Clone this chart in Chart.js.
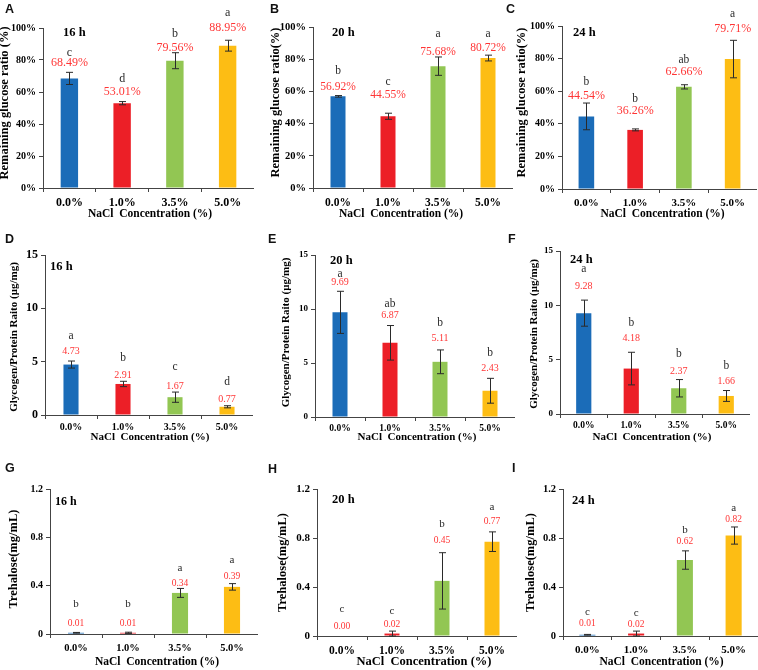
<!DOCTYPE html>
<html>
<head>
<meta charset="utf-8">
<script src="https://cdn.jsdelivr.net/npm/chart.js@4.4.1/dist/chart.umd.min.js"></script>
<style>
  body { margin: 0; background: #fff; width: 758px; height: 670px; position: relative; overflow: hidden; }
  canvas { position: absolute; }
</style>
</head>
<body>
<script>
// ---- data ----
const categories = ["0.0%", "1.0%", "3.5%", "5.0%"];
const hours = ["16 h", "20 h", "24 h"];

const glucoseMean = [[68.49, 53.01, 79.56, 88.95], [56.92, 44.55, 75.68, 80.72], [44.54, 36.26, 62.66, 79.71]];
const glucoseErr = [[3.8, 1.0, 5.0, 3.4], [0.5, 1.9, 5.7, 1.8], [8.2, 0.6, 1.3, 11.5]];
const glucoseSig = [["c", "d", "b", "a"], ["b", "c", "a", "a"], ["b", "b", "ab", "a"]];
const glucoseTicks = ["0%", "20%", "40%", "60%", "80%", "100%"];

const glycogenMean = [[4.73, 2.91, 1.67, 0.77], [9.69, 6.87, 5.11, 2.43], [9.28, 4.18, 2.37, 1.66]];
const glycogenErr = [[0.33, 0.25, 0.48, 0.1], [1.95, 1.6, 1.1, 1.15], [1.2, 1.5, 0.8, 0.5]];
const glycogenSig = [["a", "b", "c", "d"], ["a", "ab", "b", "b"], ["a", "b", "b", "b"]];
const glycogenTicks = ["0", "5", "10", "15"];

const trehaloseMean = [[0.01, 0.01, 0.34, 0.39], [0.00, 0.02, 0.45, 0.77], [0.01, 0.02, 0.62, 0.82]];
const trehaloseErr = [[0.003, 0.005, 0.037, 0.027], [0, 0.02, 0.23, 0.08], [0.003, 0.02, 0.075, 0.07]];
const trehaloseSig = [["b", "b", "a", "a"], ["c", "c", "b", "a"], ["c", "c", "b", "a"]];
const trehaloseTicks = ["0", "0.4", "0.8", "1.2"];

const barColors = ["#1b6cb8", "#ec1f27", "#92c653", "#fdbd14"];
const serif = "'Liberation Serif', 'Times New Roman', serif";
const xTitle = "NaCl  Concentration (%)";

// ---- panel layout (canvas-relative pixels, xT[1] is page y) ----
// gv / gl: pixel gaps from error-bar top to value label, and value label to letter
const frames = [
  {tag: "A", left: 0, top: 0, w: 254, h: 222, ax: 43, at: 28, ab: 188, bar: 0.33, yTick: 10, xTick: 12, xPad: 4, yT: [5, -5, 12.5], xT: [1.5, 214, 11.5], time: [20, 5, 12.5], gv: [9, 10, 5, 12], gl: [10, 13, 14, 15], vf: 12, lf: 12, tagXY: [5, 3]},
  {tag: "B", left: 250, top: 0, w: 263, h: 222, ax: 63, at: 27, ab: 188, bar: 0.30, yTick: 10.5, xTick: 11.5, xPad: 4, yT: [26, -5, 12.5], xT: [-12, 214, 11.5], time: [19, 6, 12.5], gv: [9, 18, 5, 7], gl: [16, 13, 18, 14], vf: 11.5, lf: 11.5, tagXY: [20, 3]},
  {tag: "C", left: 500, top: 0, w: 257, h: 222, ax: 62, at: 26, ab: 189, bar: 0.32, yTick: 10, xTick: 11, xPad: 4, yT: [22, -5, 12.5], xT: [3, 214, 11.5], time: [11, 7, 12.5], gv: [7, 18, 13, 11], gl: [14, 12, 12, 15], vf: 12, lf: 11.5, tagXY: [6, 3]},
  {tag: "D", left: 0, top: 215, w: 253, h: 228, ax: 45, at: 40, ab: 200, bar: 0.29, yTick: 12, xTick: 10, xPad: 2, yT: [14, 2, 11], xT: [1, 437, 11], time: [5, 12, 12.5], gv: [10, 6, 6, 6], gl: [15, 17, 19, 18], vf: 10, lf: 11.5, tagXY: [5, 18]},
  {tag: "E", left: 250, top: 215, w: 265, h: 228, ax: 65, at: 40, ab: 202, bar: 0.30, yTick: 9, xTick: 9.5, xPad: 2, yT: [36, -3.5, 11], xT: [2, 437, 11], time: [15, 6, 12.5], gv: [9, 10, 12, 10], gl: [8, 12, 15, 15], vf: 10, lf: 11.5, tagXY: [18, 18]},
  {tag: "F", left: 500, top: 215, w: 250, h: 228, ax: 60, at: 36, ab: 199, bar: 0.32, yTick: 9, xTick: 9.5, xPad: 2, yT: [34, 1.5, 11], xT: [-3, 437, 11], time: [10, 9, 12.5], gv: [14, 14, 8, 9], gl: [17, 15, 18, 16], vf: 10, lf: 11.5, tagXY: [8, 18]},
  {tag: "G", left: 0, top: 440, w: 258, h: 230, ax: 50, at: 49, ab: 194, bar: 0.31, yTick: 10, xTick: 10.5, xPad: 4, yT: [14, -2.5, 12.5], xT: [3, 662, 11.5], time: [5, 13, 12], gv: [9, 9, 5, 7], gl: [19, 19, 15, 17], vf: 9.5, lf: 11, tagXY: [5, 22]},
  {tag: "H", left: 250, top: 440, w: 267, h: 230, ax: 67, at: 49, ab: 196, bar: 0.30, yTick: 11, xTick: 11.5, xPad: 4, yT: [33, 0, 12.5], xT: [7, 662, 12.5], time: [15, 11, 12.5], gv: [10, 7, 12, 10], gl: [17, 13, 17, 15], vf: 9.5, lf: 11, tagXY: [18, 23]},
  {tag: "I", left: 500, top: 440, w: 258, h: 230, ax: 63, at: 49, ab: 196, bar: 0.33, yTick: 10.5, xTick: 11, xPad: 4, yT: [31, 0, 12.5], xT: [1, 662, 11.5], time: [9, 12, 12.5], gv: [11, 7, 9, 7], gl: [11, 11, 12, 12], vf: 9.5, lf: 11, tagXY: [12, 22]}
];

const rows = [
  {mean: glucoseMean, err: glucoseErr, sig: glucoseSig, ticks: glucoseTicks, step: 20,
   titles: ["Remaining glucose ratio (%)", "Remaining glucose ratio(%)", "Remaining glucose ratio(%)"],
   fmt: v => v.toFixed(2) + "%"},
  {mean: glycogenMean, err: glycogenErr, sig: glycogenSig, ticks: glycogenTicks, step: 5,
   titles: ["Glycogen/Protein Raito (μg/mg)", "Glycogen/Protein Raito (μg/mg)", "Glycogen/Protein Raito (μg/mg)"],
   fmt: v => v.toFixed(2)},
  {mean: trehaloseMean, err: trehaloseErr, sig: trehaloseSig, ticks: trehaloseTicks, step: 0.4,
   titles: ["Trehalose(mg/mL)", "Trehalose(mg/mL)", "Trehalose(mg/mL)"],
   fmt: v => v.toFixed(2)}
];

// error bars, value labels, significance letters, titles
const panelMarks = {
  id: "panelMarks",
  afterDatasetsDraw(chart, args, o) {
    const ctx = chart.ctx;
    const f = o.frame;
    const y = chart.scales.y;
    const area = chart.chartArea;
    ctx.save();
    chart.getDatasetMeta(0).data.forEach((bar, i) => {
      const v = o.values[i], e = o.errors[i];
      const px = Math.round(bar.x) + 0.5;
      const top = y.getPixelForValue(v + e);
      const bot = y.getPixelForValue(Math.max(v - e, 0));
      if (e > 0) {
        ctx.strokeStyle = "#2a2a2a";
        ctx.lineWidth = 1;
        ctx.beginPath();
        ctx.moveTo(px, top); ctx.lineTo(px, bot);
        ctx.moveTo(px - 3.5, top); ctx.lineTo(px + 3.5, top);
        ctx.moveTo(px - 3.5, bot); ctx.lineTo(px + 3.5, bot);
        ctx.stroke();
      }
      ctx.textAlign = "center";
      ctx.textBaseline = "middle";
      const ly = top - f.gv[i];
      ctx.fillStyle = "#ff3535";
      ctx.font = f.vf + "px " + serif;
      ctx.fillText(o.fmt(v), bar.x, ly);
      ctx.fillStyle = "#2b2b2b";
      ctx.font = f.lf + "px " + serif;
      ctx.fillText(o.letters[i], bar.x, ly - f.gl[i]);
    });

    ctx.fillStyle = "#000";
    ctx.textBaseline = "middle";
    // time label
    ctx.textAlign = "left";
    ctx.font = "bold " + f.time[2] + "px " + serif;
    ctx.fillText(o.hour, area.left + f.time[0], area.top + f.time[1]);
    // x title
    ctx.textAlign = "center";
    ctx.font = "bold " + f.xT[2] + "px " + serif;
    ctx.fillText(xTitle, (area.left + area.right) / 2 + f.xT[0], f.xT[1] - f.top);
    // y title
    ctx.save();
    ctx.translate(f.yT[0], (area.top + area.bottom) / 2 + f.yT[1]);
    ctx.rotate(-Math.PI / 2);
    ctx.font = "bold " + f.yT[2] + "px " + serif;
    ctx.fillText(o.yTitle, 0, 0);
    ctx.restore();
    // panel tag
    ctx.textAlign = "left";
    ctx.textBaseline = "top";
    ctx.fillStyle = "#111";
    ctx.font = "bold 12.5px 'Liberation Sans', Arial, sans-serif";
    ctx.fillText(f.tag, f.tagXY[0], f.tagXY[1]);
    ctx.restore();
  }
};

frames.forEach((f, k) => {
  const row = rows[Math.floor(k / 3)];
  const col = k % 3;
  const cv = document.createElement("canvas");
  cv.width = f.w; cv.height = f.h;
  cv.style.left = f.left + "px"; cv.style.top = f.top + "px";
  cv.style.width = f.w + "px"; cv.style.height = f.h + "px";
  document.body.appendChild(cv);

  const yMax = parseFloat(row.ticks[row.ticks.length - 1]);
  new Chart(cv, {
    type: "bar",
    data: {
      labels: categories,
      datasets: [{
        data: row.mean[col],
        backgroundColor: barColors,
        barPercentage: f.bar,
        categoryPercentage: 1
      }]
    },
    options: {
      responsive: false,
      animation: false,
      devicePixelRatio: 1,
      layout: {padding: {top: f.at, left: 0, right: 0, bottom: 0}},
      plugins: {
        legend: {display: false},
        tooltip: {enabled: false},
        panelMarks: {
          frame: f, values: row.mean[col], errors: row.err[col], letters: row.sig[col],
          hour: hours[col], yTitle: row.titles[col], fmt: row.fmt
        }
      },
      scales: {
        x: {
          grid: {offset: true, drawOnChartArea: false, tickLength: 4, color: "#444"},
          border: {color: "#444"},
          ticks: {color: "#000", padding: f.xPad, maxRotation: 0, autoSkip: false,
                  font: {family: serif, weight: "bold", size: f.xTick}},
          afterFit: s => { s.height = f.h - f.ab; }
        },
        y: {
          min: 0, max: yMax,
          grid: {drawOnChartArea: false, tickLength: 4, color: "#444"},
          border: {color: "#444"},
          ticks: {color: "#000", padding: 3, stepSize: row.step,
                  font: {family: serif, weight: "bold", size: f.yTick},
                  callback: (v, i) => row.ticks[i]},
          afterFit: s => { s.width = f.ax; }
        }
      }
    },
    plugins: [panelMarks]
  });
});
</script>
</body>
</html>
